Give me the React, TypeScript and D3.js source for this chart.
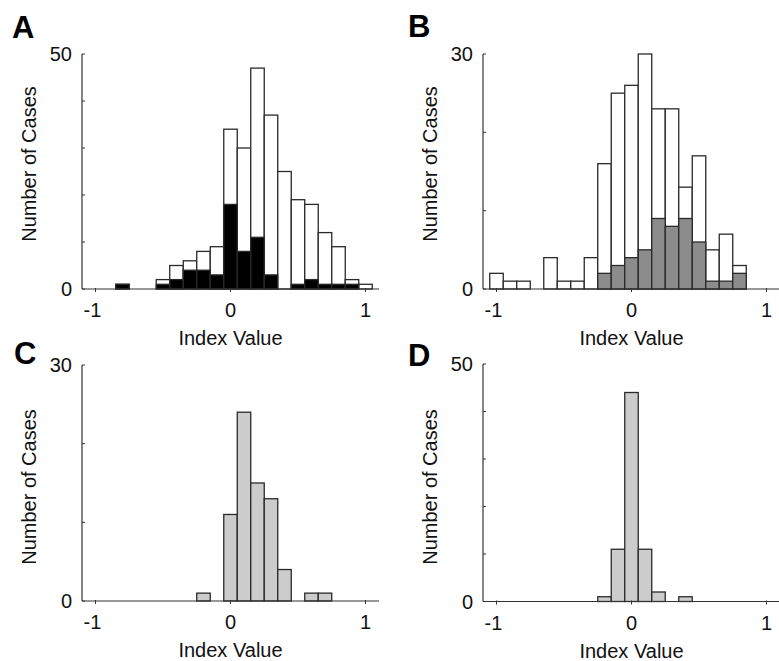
import React from "react";
import * as d3 from "d3";

const binCenters = [-1.0, -0.9, -0.8, -0.7, -0.6, -0.5, -0.4, -0.3, -0.2, -0.1, 0, 0.1, 0.2, 0.3, 0.4, 0.5, 0.6, 0.7, 0.8, 0.9, 1.0];
const aTotal = [0, 0, 1, 0, 0, 2, 5, 6, 8, 9, 34, 30, 47, 37, 25, 19, 18, 12, 9, 2, 1];
const aSubset = [0, 0, 1, 0, 0, 1, 2, 4, 4, 3, 18, 8, 11, 3, 0, 1, 2, 1, 1, 1, 0];
const bTotal = [2, 1, 1, 0, 4, 1, 1, 4, 16, 25, 26, 30, 23, 23, 13, 17, 5, 7, 3, 0, 0];
const bSubset = [0, 0, 0, 0, 0, 0, 0, 0, 2, 3, 4, 5, 9, 8, 9, 6, 1, 1, 2, 0, 0];
const cCounts = [0, 0, 0, 0, 0, 0, 0, 0, 1, 0, 11, 24, 15, 13, 4, 0, 1, 1, 0, 0, 0];
const dCounts = [0, 0, 0, 0, 0, 0, 0, 0, 1, 11, 44, 11, 2, 0, 1, 0, 0, 0, 0, 0, 0];
const xTickValues = [-1, 0, 1];
const xLabel = "Index Value";
const yLabel = "Number of Cases";

const FONT = "Arial, 'Liberation Sans', Helvetica, sans-serif";
const BIN = 0.1;

type PanelProps = {
  letter: string;
  left: number;
  right: number;
  top: number;
  base: number;
  yMax: number;
  total: number[];
  totalFill: string;
  subset?: number[];
  subsetFill?: string;
  letterPos: [number, number];
  yLabelY: number;
};

function Panel(p: PanelProps) {
  const x = d3.scaleLinear().domain([-1.1, 1.1]).range([p.left, p.right]);
  const y = d3.scaleLinear().domain([0, p.yMax]).range([p.base, p.top]);
  const yTicks = d3.range(0, p.yMax + 1, 10);
  const stroke = "#2a2a2a";
  const bars = (counts: number[], fill: string) =>
    binCenters.map((c, i) =>
      counts[i] > 0 ? (
        <rect
          key={fill + i}
          x={x(c - BIN / 2)}
          y={y(counts[i])}
          width={x(c + BIN / 2) - x(c - BIN / 2)}
          height={y(0) - y(counts[i])}
          fill={fill}
          stroke={stroke}
          strokeWidth={1.3}
        />
      ) : null
    );
  return (
    <g>
      <text x={p.letterPos[0]} y={p.letterPos[1]} fontFamily={FONT} fontWeight="bold" fontSize={31} fill="#000">
        {p.letter}
      </text>
      {bars(p.total, p.totalFill)}
      {p.subset && bars(p.subset, p.subsetFill || "#000")}
      <line x1={p.left} x2={p.left} y1={p.base} y2={p.top} stroke="#333" strokeWidth={1.2} />
      <line x1={p.left} x2={p.right} y1={p.base} y2={p.base} stroke="#333" strokeWidth={1.2} />
      {yTicks.map((t) => (
        <line key={"yt" + t} x1={p.left} x2={p.left + 3} y1={y(t)} y2={y(t)} stroke="#333" strokeWidth={1} />
      ))}
      {[0, p.yMax].map((t) => (
        <text key={"yl" + t} x={p.left - 10} y={y(t)} dy="0.36em" textAnchor="end" fontFamily={FONT} fontSize={20} fill="#111">
          {t}
        </text>
      ))}
      {xTickValues.map((t) => (
        <g key={"xt" + t}>
          <line x1={x(t)} x2={x(t)} y1={p.base - 1} y2={p.base + 3} stroke="#333" strokeWidth={1} />
          <text x={x(t) + (t < 0 ? -3 : 0)} y={p.base + 28} textAnchor="middle" fontFamily={FONT} fontSize={20} fill="#111">
            {t}
          </text>
        </g>
      ))}
      <text x={x(0)} y={p.base + 56} textAnchor="middle" fontFamily={FONT} fontSize={20} fill="#111">
        {xLabel}
      </text>
      <text
        transform={`translate(${p.left - 46},${p.yLabelY}) rotate(-90)`}
        textAnchor="middle"
        fontFamily={FONT}
        fontSize={20}
        fill="#111"
      >
        {yLabel}
      </text>
    </g>
  );
}

export default function App() {
  return (
    <svg
      width={779}
      height={661}
      style={{ position: "absolute", left: 0, top: 0, background: "#fff" }}
    >
      <rect x={0} y={0} width={779} height={661} fill="#fff" />
      <Panel letter="A" left={82} right={379} top={54} base={289} yMax={50}
        total={aTotal} totalFill="#fff" subset={aSubset} subsetFill="#000"
        letterPos={[12, 38]} yLabelY={164} />
      <Panel letter="B" left={483} right={780} top={54} base={289} yMax={30}
        total={bTotal} totalFill="#fff" subset={bSubset} subsetFill="#8c8c8c"
        letterPos={[408, 37]} yLabelY={164} />
      <Panel letter="C" left={82} right={379} top={365} base={601} yMax={30}
        total={cCounts} totalFill="#cccccc"
        letterPos={[14, 364]} yLabelY={487} />
      <Panel letter="D" left={483} right={780} top={364} base={601.5} yMax={50}
        total={dCounts} totalFill="#cccccc"
        letterPos={[408, 366]} yLabelY={487} />
    </svg>
  );
}
